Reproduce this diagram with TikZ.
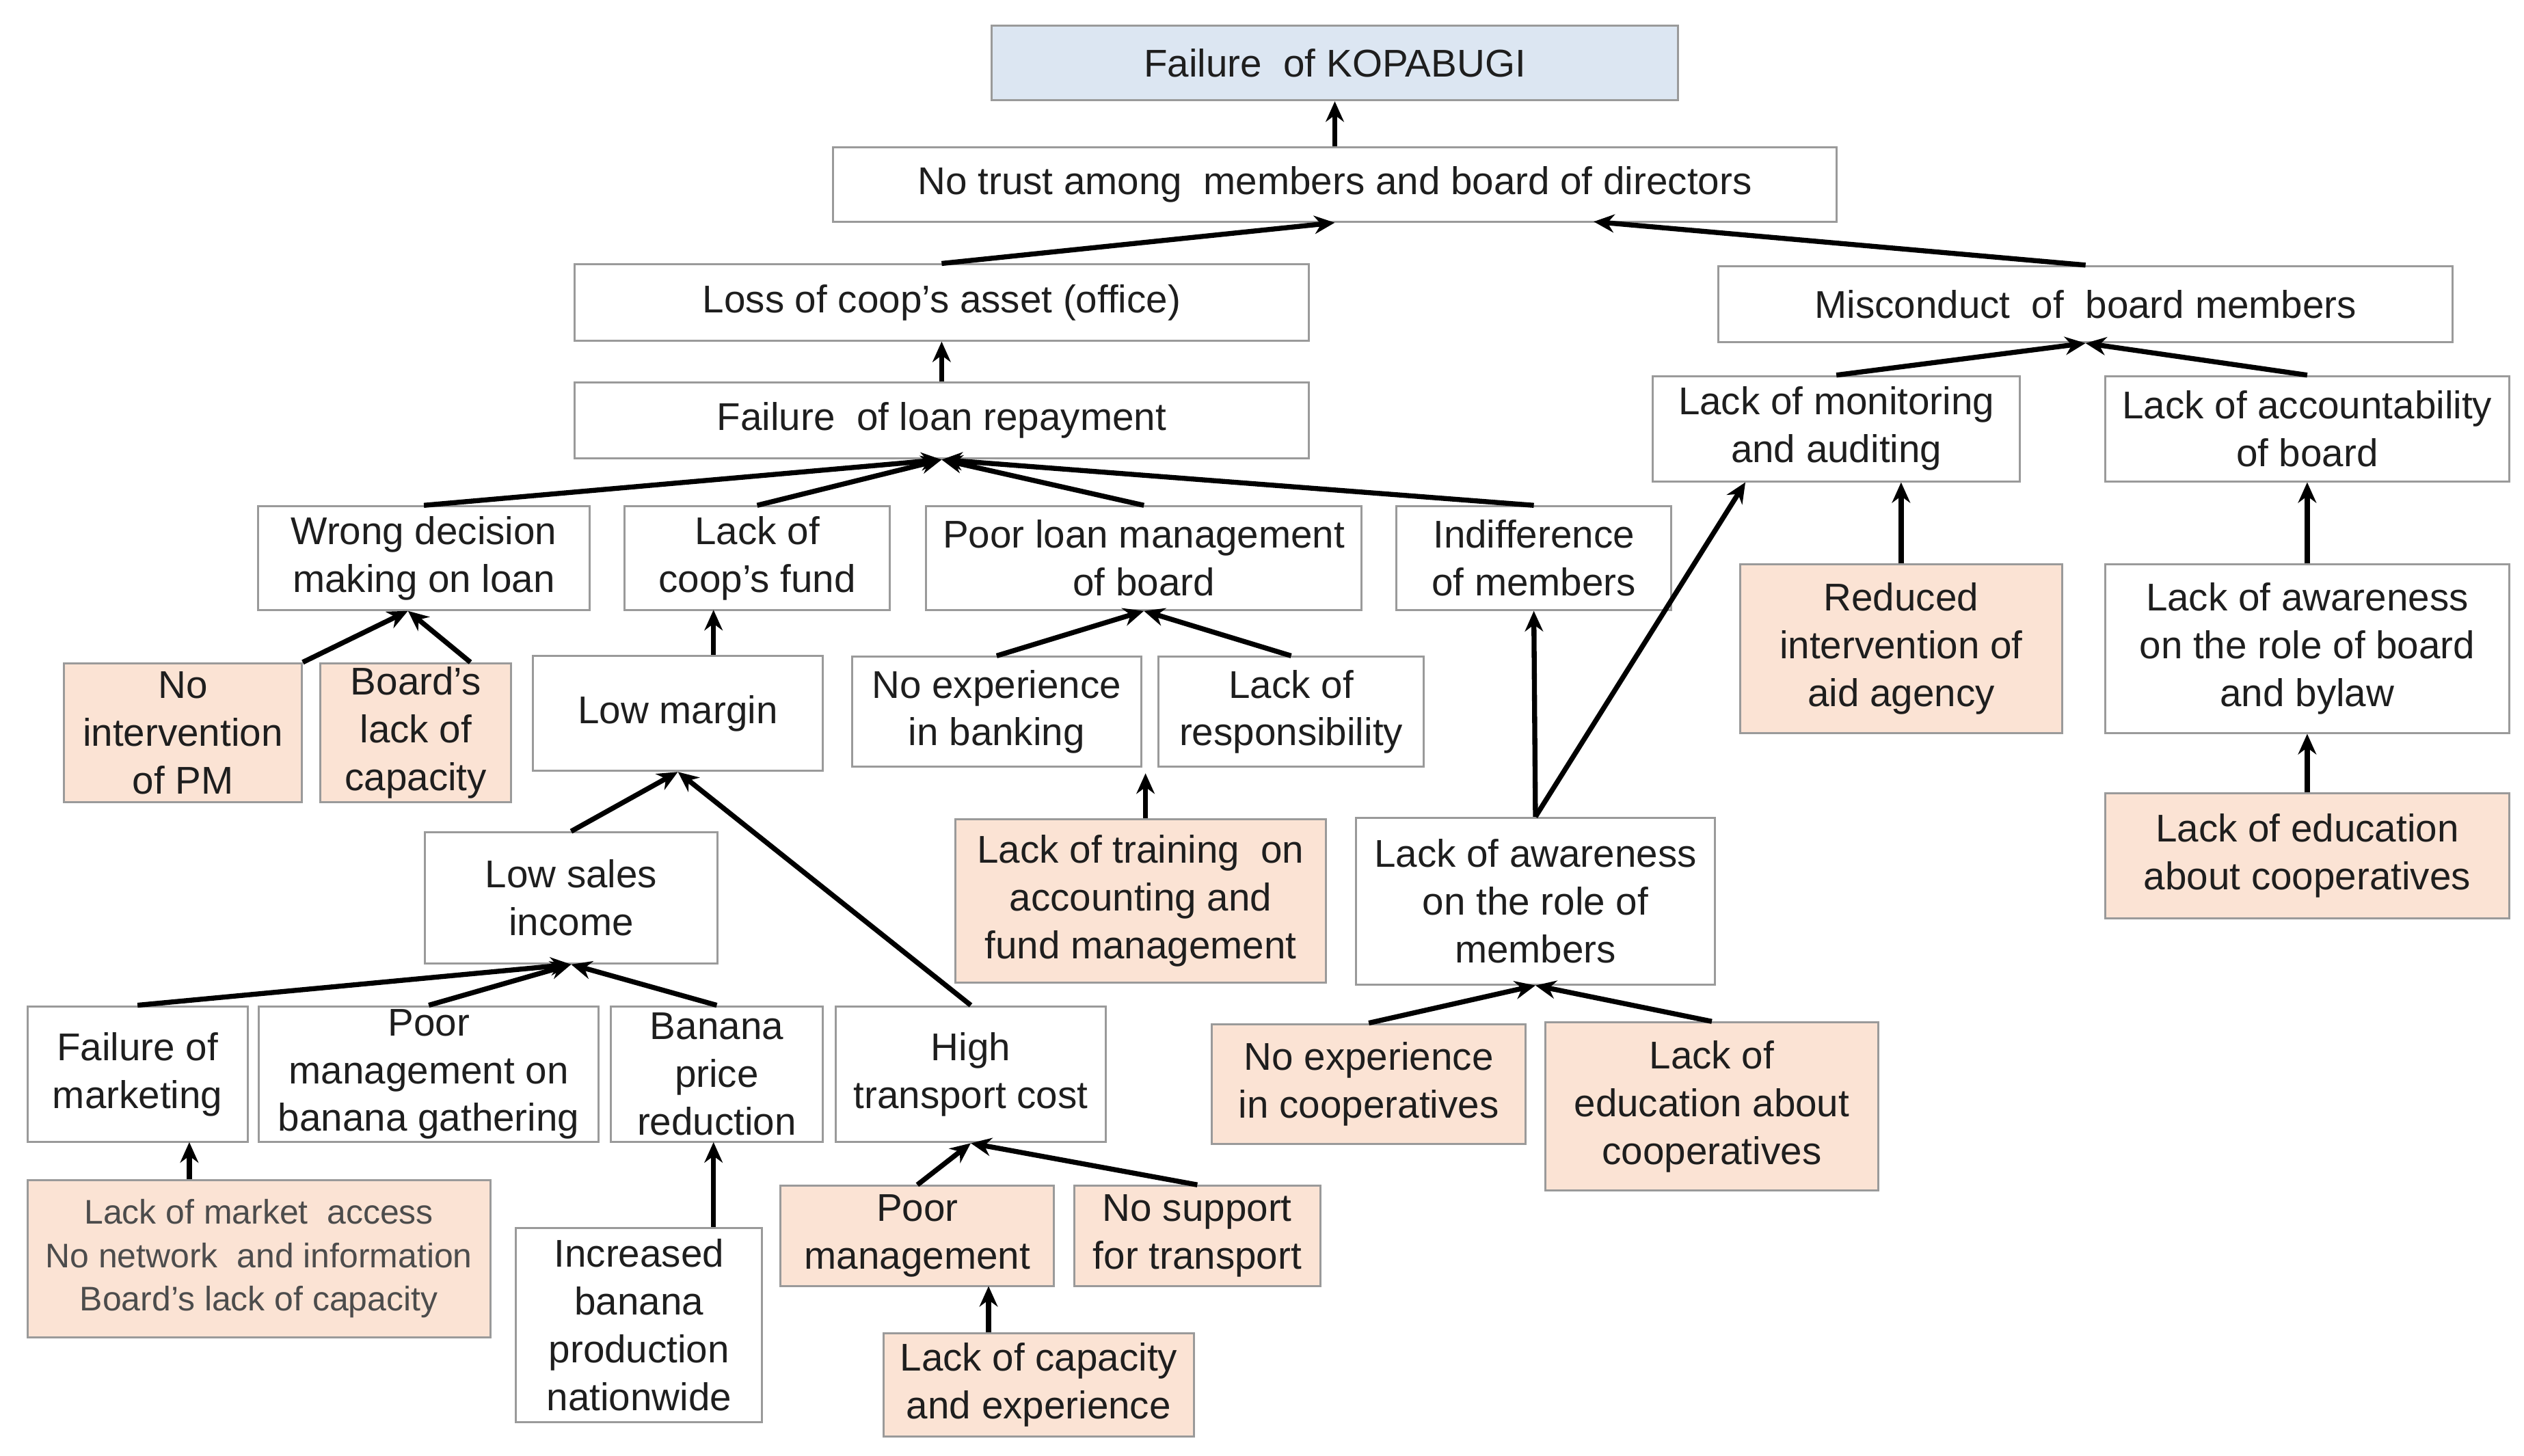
\documentclass[tikz,border=0pt]{standalone}
\usepackage{fontspec}
\setmainfont{Liberation Sans}
\usetikzlibrary{arrows.meta,positioning}
\definecolor{peach}{HTML}{FBE3D4}
\definecolor{pale}{HTML}{DCE6F2}
\definecolor{edge}{HTML}{9A9A9A}
\definecolor{ink}{HTML}{1E1E1E}

\begin{document}
\begin{tikzpicture}[x=0.025cm,y=-0.025cm,
  box/.style 2 args={draw=edge,line width=0.9pt,align=center,text=ink,inner sep=1pt,
    font=\fontsize{17}{21}\selectfont,minimum width=#1*0.025cm,minimum height=#2*0.025cm},
  cause/.style={fill=peach},
  arr/.style={-{Stealth[length=9pt,width=8pt]},line width=2.2pt,black}]
	 \useasboundingbox (0,0) rectangle (1560,900);
	 \node at (825,39) [box={424}{46},fill=pale] (top) {Failure \ of KOPABUGI};
	 \node at (825,114) [box={620}{46}] (trust) {No trust among \ members and board of directors};
	 \node at (582,187) [box={454}{47}] (loss) {Loss of coop’s asset (office)};
	 \node at (1289,188) [box={454}{47}] (misc) {Misconduct \ of \ board members};
	 \node at (582,260) [box={454}{47}] (loan) {Failure \ of loan repayment};

	 \node at (262,345) [box={205}{64}] (wrong) {Wrong decision\\making on loan};
	 \node at (468,345) [box={164}{64}] (fund) {Lack of\\coop’s fund};
	 \node at (707,345) [box={269}{64}] (pool) {Poor loan management\\of board};
	 \node at (948,345) [box={170}{64}] (indif) {Indifference\\of members};
	 \node at (1135,265) [box={227}{65}] (monit) {Lack of monitoring\\and auditing};
	 \node at (1426,265) [box={250}{65}] (acct) {Lack of accountability\\of board};
	 \node at (1175,401) [box={199}{104},cause] (aid) {Reduced\\intervention of\\aid agency};
	 \node at (1426,401) [box={250}{104}] (awb) {Lack of awareness\\on the role of board\\and bylaw};
	 \node at (1426,529) [box={250}{77},cause] (educ1) {Lack of education\\about cooperatives};

	 \node at (113,453) [box={147}{86},cause] (nopm) {No\\intervention\\of PM};
	 \node at (257,453) [box={118}{86},cause] (bcap) {Board’s\\lack of\\capacity};
	 \node at (419,441) [box={179}{71}] (margin) {Low margin};
	 \node at (616,440) [box={179}{68}] (bank) {No experience\\in banking};
	 \node at (798,440) [box={164}{68}] (resp) {Lack of\\responsibility};
	 \node at (705,557) [box={229}{101},cause] (train) {Lack of training \ on\\accounting and\\fund management};
	 \node at (949,557) [box={222}{103}] (awm) {Lack of awareness\\on the role of\\members};
	 \node at (353,555) [box={181}{81}] (sales) {Low sales\\income};

	 \node at (85,664) [box={136}{84}] (mkt) {Failure of\\marketing};
	 \node at (265,664) [box={210}{84}] (gath) {Poor\\management on\\banana gathering};
	 \node at (443,664) [box={131}{84}] (price) {Banana\\price\\reduction};
	 \node at (600,664) [box={167}{84}] (trans) {High\\transport cost};
	 \node at (846,670) [box={194}{74},cause] (nocoop) {No experience\\in cooperatives};
	 \node at (1058,684) [box={206}{104},cause] (educ2) {Lack of\\education about\\cooperatives};
	 \node at (160,778) [box={286}{97},cause,font=\fontsize{15}{19}\selectfont,text=black!70] (access) {Lack of market \ access\\No network \ and information\\Board’s lack of capacity};
	 \node at (395,819) [box={152}{120}] (incr) {Increased\\banana\\production\\nationwide};
	 \node at (567,764) [box={169}{62},cause] (poorm) {Poor\\management};
	 \node at (740,764) [box={152}{62},cause] (nosup) {No support\\for transport};
	 \node at (642,856) [box={192}{64},cause] (capx) {Lack of capacity\\and experience};

	 \coordinate (trustR) at (985,137);
	 \coordinate (bankresp) at (708,478);

	 \draw[arr] (trust) -- (top);
	 \draw[arr] (loss.north) -- (trust.south);
	 \draw[arr] (misc.north) -- (trustR);
	 \draw[arr] (loan) -- (loss);
	 \draw[arr] (wrong.north) -- (loan.south);
	 \draw[arr] (fund.north) -- (loan.south);
	 \draw[arr] (pool.north) -- (loan.south);
	 \draw[arr] (indif.north) -- (loan.south);
	 \draw[arr] (monit.north) -- (misc.south);
	 \draw[arr] (acct.north) -- (misc.south);
	 \draw[arr] (aid.north) -- (aid.north |- monit.south);
	 \draw[arr] (awb) -- (acct);
	 \draw[arr] (educ1) -- (awb);
	 \draw[arr] (nopm.north east) ++(0,0) -- ([xshift=-7]wrong.south);
	 \draw[arr] ([xshift=24]bcap.north) -- ([xshift=-7]wrong.south);
	 \draw[arr] (margin.north -| 441,0) -- (441,377);
	 \draw[arr] (bank.north) -- (pool.south);
	 \draw[arr] (resp.north) -- (pool.south);
	 \draw[arr] (train.north -| bankresp) -- (bankresp);
	 \draw[arr] (awm.north) -- (indif.south);
	 \draw[arr] (awm.north) -- ([xshift=-40]monit.south);
	 \draw[arr] (sales.north) -- (margin.south);
	 \draw[arr] (trans.north) -- (margin.south);
	 \draw[arr] (mkt.north) -- (sales.south);
	 \draw[arr] (gath.north) -- (sales.south);
	 \draw[arr] (price.north) -- (sales.south);
	 \draw[arr] (access.north -| 117,0) -- (117,706);
	 \draw[arr] (incr.north -| 441,0) -- (441,706);
	 \draw[arr] (poorm.north) -- (trans.south);
	 \draw[arr] (nosup.north) -- (trans.south);
	 \draw[arr] (capx.north -| 611,0) -- (611,795);
	 \draw[arr] (nocoop.north) -- (awm.south);
	 \draw[arr] (educ2.north) -- (awm.south);
\end{tikzpicture}
\end{document}
